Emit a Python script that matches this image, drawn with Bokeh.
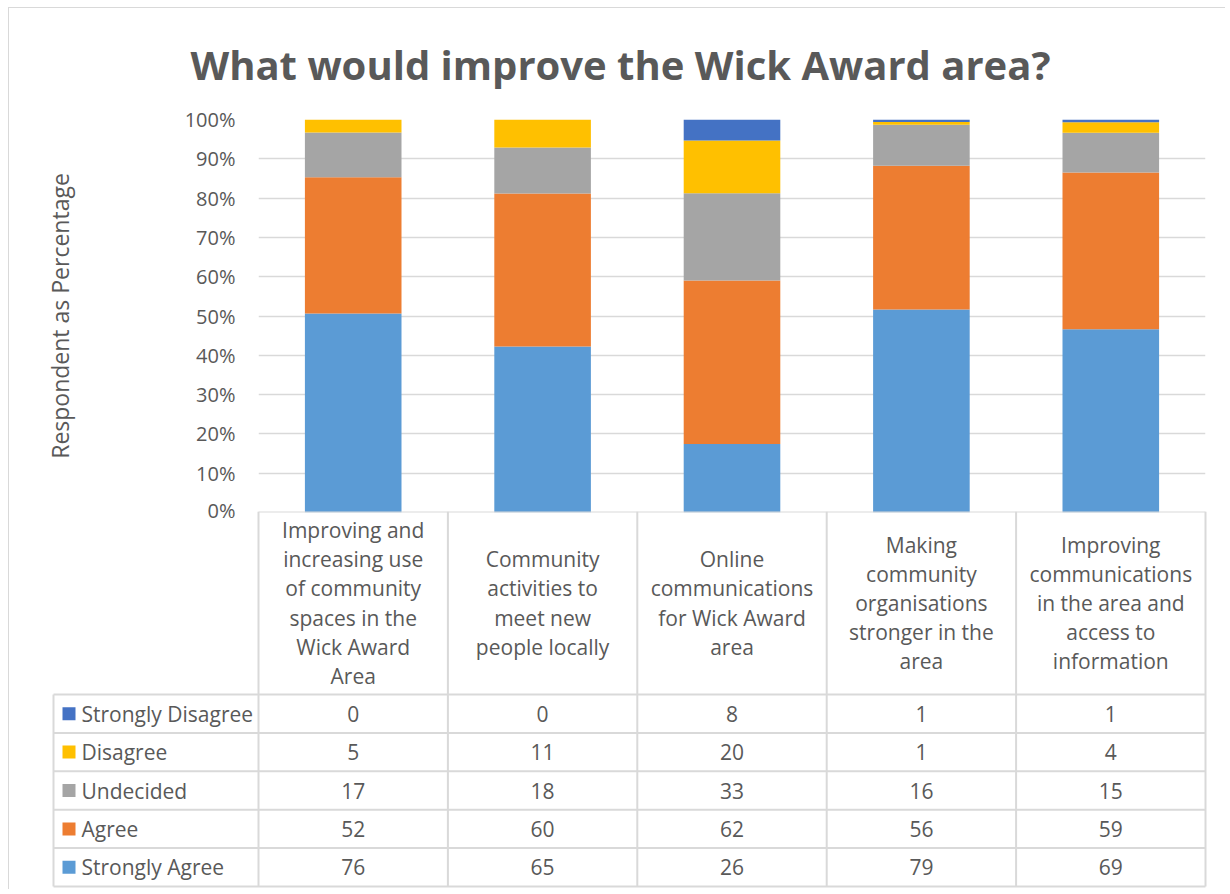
from bokeh.plotting import figure
from bokeh.models import ColumnDataSource, FactorRange, Range1d, FixedTicker, NumeralTickFormatter, Title
from bokeh.core.properties import value
from bokeh.embed import file_html
from bokeh.resources import INLINE

# ---------------- data ----------------
categories = [
    "Improving and\nincreasing use\nof community\nspaces in the\nWick Award\nArea",
    "Community\nactivities to\nmeet new\npeople locally",
    "Online\ncommunications\nfor Wick Award\narea",
    "Making\ncommunity\norganisations\nstronger in the\narea",
    "Improving\ncommunications\nin the area and\naccess to\ninformation",
]
series_names = ["Strongly Agree", "Agree", "Undecided", "Disagree", "Strongly Disagree"]
strongly_agree = [76, 65, 26, 79, 69]
agree = [52, 60, 62, 56, 59]
undecided = [17, 18, 33, 16, 15]
disagree = [5, 11, 20, 1, 4]
strongly_disagree = [0, 0, 8, 1, 1]
series_colors = ["#5B9BD5", "#ED7D31", "#A5A5A5", "#FFC000", "#4472C4"]
y_ticks = [0.0, 0.1, 0.2, 0.3, 0.4, 0.5, 0.6, 0.7, 0.8, 0.9, 1.0]
title_text = "What would improve the Wick Award area?"
y_label = "Respondent as Percentage"

counts = [strongly_agree, agree, undecided, disagree, strongly_disagree]
totals = [sum(c[i] for c in counts) for i in range(len(categories))]

TXT = "#595959"
GRID = "#D9D9D9"
FONT = "Open Sans"

data = {"cat": categories}
for name, vals in zip(series_names, counts):
    data[name] = [v / t for v, t in zip(vals, totals)]
src = ColumnDataSource(data)

# ---------------- layout constants (page pixels) ----------------
X0, Y0 = 9, 8                         # where the content starts on the page
W = 1217
RIGHT = X0 + W
FRAME_L, FRAME_R = 258, 1205          # bar frame
FRAME_T, FRAME_B = 118, 512
CW = (FRAME_R - FRAME_L) / len(categories)
OVER = 12                             # overlap of the two panels
TOP_H = FRAME_B + OVER - Y0

# ---------------- bar chart ----------------
p = figure(x_range=FactorRange(factors=categories, range_padding=0), y_range=Range1d(0, 1),
           width=W, height=TOP_H, output_backend="svg", toolbar_location=None,
           x_axis_location=None,
           min_border_left=FRAME_L - X0, min_border_right=RIGHT - FRAME_R,
           min_border_top=FRAME_T - Y0, min_border_bottom=OVER,
           styles={"margin-left": "8px", "margin-top": "7px",
                   "border-left": "1px solid #D9D9D9", "border-top": "1px solid #D9D9D9"})
p.vbar_stack(series_names, x="cat", width=0.51, fill_color=series_colors,
             line_color=None, source=src)
p.title = Title(text=title_text, align="left", vertical_align="middle",
                text_font_size="40px", text_color=TXT, text_font=FONT,
                text_font_style="bold", standoff=54, offset=-68)
p.yaxis.ticker = FixedTicker(ticks=y_ticks)
p.yaxis.formatter = NumeralTickFormatter(format="0%")
p.yaxis.axis_line_color = None
p.yaxis.major_tick_line_color = None
p.yaxis.minor_tick_line_color = None
p.yaxis.major_label_text_font = FONT
p.yaxis.major_label_text_font_size = "20px"
p.yaxis.major_label_text_color = TXT
p.yaxis.major_label_standoff = 17
p.yaxis.axis_label = y_label
p.yaxis.axis_label_text_font = FONT
p.yaxis.axis_label_text_font_size = "23px"
p.yaxis.axis_label_text_font_style = "normal"
p.yaxis.axis_label_text_color = TXT
p.yaxis.axis_label_standoff = 106
p.xgrid.grid_line_color = None
p.ygrid.grid_line_color = GRID
p.ygrid.grid_line_width = 1.5
p.outline_line_color = None

# ---------------- data table ----------------
RH = 38.4
HEADER = 183 / RH
LEG = (FRAME_L - 53) / CW
TL, TR = 49, 1209
t_x0 = (TL - FRAME_L) / CW
t_x1 = (TR - FRAME_L) / CW
BOT_H = 378
t_y1 = (BOT_H - 1) / RH
nrow = len(series_names)
ncol = len(categories)

t = figure(x_range=Range1d(t_x0, t_x1), y_range=Range1d(t_y1, 0),
           width=W, height=BOT_H, output_backend="svg", toolbar_location=None,
           x_axis_location=None, y_axis_location=None,
           min_border_left=TL - X0, min_border_right=RIGHT - TR,
           min_border_top=0, min_border_bottom=1,
           styles={"margin-left": "8px", "margin-top": f"-{OVER}px",
                   "border-left": "1px solid #D9D9D9"})
t.grid.visible = False
t.outline_line_color = None
t.background_fill_color = None
t.border_fill_color = None

x0, y0, x1, y1 = [], [], [], []
for i in range(ncol + 1):
    x0.append(i); y0.append(0); x1.append(i); y1.append(HEADER + nrow)
x0.append(-LEG); y0.append(HEADER); x1.append(-LEG); y1.append(HEADER + nrow)
x0.append(0); y0.append(0); x1.append(ncol); y1.append(0)
for j in range(nrow + 1):
    x0.append(-LEG); y0.append(HEADER + j); x1.append(ncol); y1.append(HEADER + j)
t.segment(x0=x0, y0=y0, x1=x1, y1=y1, line_color=GRID, line_width=2)

# header labels
t.text(x=[i + 0.5 for i in range(ncol)], y=[HEADER / 2] * ncol, text=categories,
       text_align="center", text_baseline="middle", text_line_height=1.04,
       text_font=value(FONT), text_font_size="21px", text_color=TXT)

# rows (top-down: reversed stack order)
row_names = series_names[::-1]
row_vals = counts[::-1]
row_cols = series_colors[::-1]
cx, cy, ct = [], [], []
for r, vals in enumerate(row_vals):
    for c, v in enumerate(vals):
        cx.append(c + 0.5); cy.append(HEADER + r + 0.5); ct.append(str(v))
t.text(x=cx, y=cy, text=ct, text_align="center", text_baseline="middle",
       text_font=value(FONT), text_font_size="21px", text_color=TXT)

ly = [HEADER + r + 0.5 for r in range(nrow)]
t.scatter(x=[-LEG + 15.5 / CW] * nrow, y=ly, marker="square", size=13,
          fill_color=row_cols, line_color=None)
t.text(x=[-LEG + 28 / CW] * nrow, y=ly, text=row_names, text_align="left",
       text_baseline="middle", text_font=value(FONT), text_font_size="21px",
       text_color=TXT)

open("out.html", "w").write(file_html([p, t], INLINE))
